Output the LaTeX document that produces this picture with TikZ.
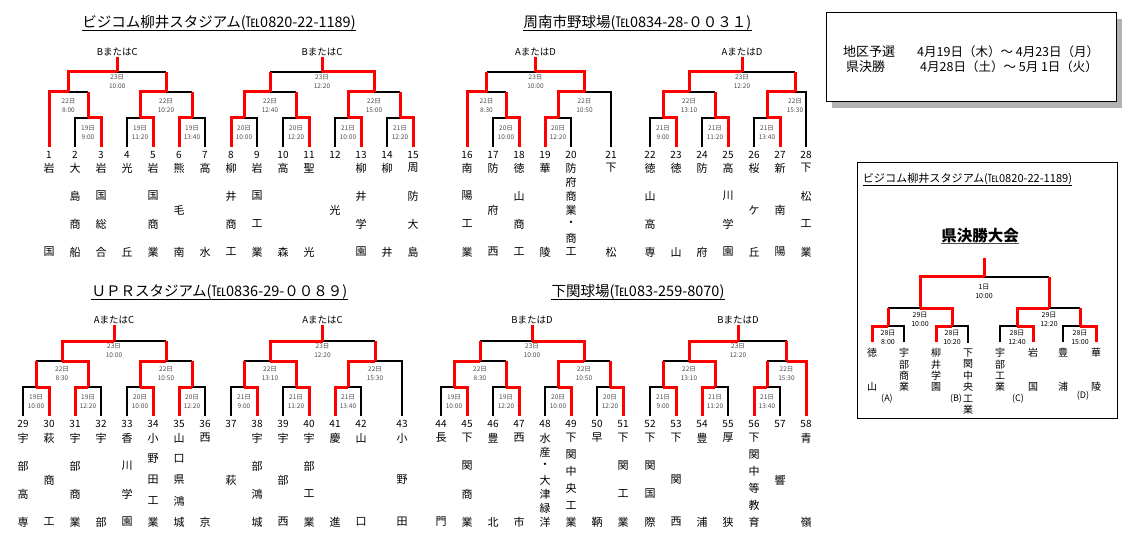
\documentclass[tikz,border=0pt]{standalone}
\usepackage{fontspec}
\setmainfont{Noto Sans CJK JP}

\tikzset{
  win/.style={draw=red, line width=3pt},
  lose/.style={draw=black, line width=1.8pt},
  tnum/.style={font=\fontsize{10}{10}\selectfont, inner xsep=0pt, inner ysep=4.3pt},
  tname/.style={font=\fontsize{11}{11}\selectfont, inner sep=0pt},
  lbl/.style={font=\fontsize{6.5}{9}\selectfont, text=black!70, align=center, inner sep=0pt},
  flbl/.style={font=\fontsize{7}{9}\selectfont, align=center, inner sep=0pt},
  grp/.style={font=\fontsize{9.5}{9.5}\selectfont, inner sep=1pt},
  heading/.style={font=\fontsize{14.5}{14.5}\selectfont, inner sep=0pt},
  pool/.style={font=\fontsize{9}{9}\selectfont, inner sep=0pt},
}

% vertical school name: x, top y, bottom y, chars, node name
\newcommand\vname[5]{%
  \edef\chlist{#4}%
  \foreach \ch [count=\cnt] in \chlist {\xdef\nch{\cnt}}%
  \foreach \ch [count=\ii from 0] in \chlist {%
    \ifnum\nch=1 \pgfmathsetmacro\yy{(#2+#3)/2}%
    \else \pgfmathsetmacro\yy{#2+\ii*(#3-#2)/(\nch-1)}\fi
    \node[tname] (#5-\ii) at (#1,\yy) {\ch};
  }}

\def\lostbouts{a1/a4, a3/a5, a5/a6, b2/b5, b4/b6, b5/b7, c1/c3, c3/c5, d2/d4, d5/d6,
  e1/e5, e4/e6, e6/e7, f1/f4, f5/f6, g2/g5, g4/g6, g5/g7, h1/h4, h3/h5, h5/h6}

\begin{document}
\begin{tikzpicture}[x=1pt,y=-1pt]
\useasboundingbox (0,0) rectangle (1133,540);

% stadium headings
\node[heading] (hd1) at (219,23) {ビジコム柳井スタジアム(℡0820-22-1189)};
\node[heading] (hd2) at (637.5,23) {周南市野球場(℡0834-28-００３１)};
\node[heading] (hd3) at (219.5,291.5) {ＵＰＲスタジアム(℡0836-29-００８９)};
\node[heading] (hd4) at (638,291.5) {下関球場(℡083-259-8070)};
\foreach \hd in {hd1,hd2,hd3,hd4}
  \draw[line width=0.8pt] (\hd.south west) -- (\hd.south east);

% teams
\foreach \tn/\xx/\nm in {1/49/{岩,国}, 2/75/{大,島,商,船}, 3/101/{岩,国,総,合}, 4/127/{光,丘},
    5/153/{岩,国,商,業}, 6/179/{熊,毛,南}, 7/205/{高,水}, 8/231/{柳,井,商,工}, 9/257/{岩,国,工,業},
    10/283/{高,森}, 11/309/{聖,光}, 12/335/{光}, 13/361/{柳,井,学,園}, 14/387/{柳,井},
    15/413/{周,防,大,島}, 16/467/{南,陽,工,業}, 17/493/{防,府,西}, 18/519/{徳,山,商,工},
    19/545/{華,陵}, 20/571/{防,府,商,業,・,商,工}, 21/611/{下,松}, 22/650/{徳,山,高,専},
    23/676/{徳,山}, 24/702/{防,府}, 25/728/{高,川,学,園}, 26/754/{桜,ケ,丘}, 27/780/{新,南,陽},
    28/806/{下,松,工,業}} {
  \node[tnum] (t\tn) at (\xx,155) {\tn};
  \vname{\xx}{168}{252}{\nm}{n\tn}
}
\foreach \tn/\xx/\nm in {29/23/{宇,部,高,専}, 30/49/{萩,商,工}, 31/75/{宇,部,商,業}, 32/101/{宇,部},
    33/127/{香,川,学,園}, 34/153/{小,野,田,工,業}, 35/179/{山,口,県,鴻,城}, 36/205/{西,京},
    37/231/{萩}, 38/257/{宇,部,鴻,城}, 39/283/{宇,部,西}, 40/309/{宇,部,工,業}, 41/335/{慶,進},
    42/361/{山,口}, 43/402/{小,野,田}, 44/441/{長,門}, 45/467/{下,関,商,業}, 46/493/{豊,北},
    47/519/{西,市}, 48/545/{水,産,・,大,津,緑,洋}, 49/571/{下,関,中,央,工,業}, 50/597/{早,鞆},
    51/623/{下,関,工,業}, 52/650/{下,関,国,際}, 53/676/{下,関,西}, 54/702/{豊,浦}, 55/728/{厚,狭},
    56/754/{下,関,中,等,教,育}, 57/780/{響}, 58/806/{青,嶺}} {
  \node[tnum] (t\tn) at (\xx,424) {\tn};
  \vname{\xx}{438}{522}{\nm}{n\tn}
}

% bouts: name/x/row/day/time
\foreach \m/\xx/\rd/\dt/\tm in {a1/88/1/19日/9:00, a2/140/1/19日/11:20, a3/192/1/19日/13:40,
    a4/68.5/2/22日/8:00, a5/166/2/22日/10:20, a6/117.25/3/23日/10:00,
    b1/244/1/20日/10:00, b2/296/1/20日/12:20, b3/348/1/21日/10:00, b4/400/1/21日/12:20,
    b5/270/2/22日/12:40, b6/374/2/22日/15:00, b7/322/3/23日/12:20,
    c1/506/1/20日/10:00, c2/558/1/20日/12:20, c3/486.5/2/22日/8:30, c4/584.5/2/22日/10:50,
    c5/535.5/3/23日/10:00,
    d1/663/1/21日/9:00, d2/715/1/21日/11:20, d3/767/1/21日/13:40, d4/689/2/22日/13:10,
    d5/795/2/22日/15:30, d6/742/3/23日/12:20,
    e1/36/4/19日/10:00, e2/88/4/19日/12:20, e3/140/4/20日/10:00, e4/192/4/20日/12:20,
    e5/62/5/22日/8:30, e6/166/5/22日/10:50, e7/114/6/23日/10:00,
    f1/244/4/21日/9:00, f2/296/4/21日/11:20, f3/348/4/21日/13:40, f4/270/5/22日/13:10,
    f5/375/5/22日/15:30, f6/322.5/6/23日/12:20,
    g1/454/4/19日/10:00, g2/506/4/19日/12:20, g3/558/4/20日/10:00, g4/610/4/20日/12:20,
    g5/480/5/22日/8:30, g6/584/5/22日/10:50, g7/532/6/23日/10:00,
    h1/663/4/21日/9:00, h2/715/4/21日/11:20, h3/767/4/21日/13:40, h4/689/5/22日/13:10,
    h5/786.5/5/22日/15:30, h6/738/6/23日/12:20} {
  \ifcase\rd\or\def\yy{118}\def\dy{14.5}\or\def\yy{92}\def\dy{13.5}\or\def\yy{72}\def\dy{9.5}%
  \or\def\yy{387}\def\dy{14.5}\or\def\yy{361}\def\dy{12.5}\or\def\yy{341}\def\dy{9.5}\fi
  \coordinate (\m) at (\xx,\yy);
  \node[lbl] at (\xx,\yy+\dy) {\dt\\\tm};
}

% group winners
\foreach \g/\m/\yy/\txt in {ga/a6/52/BまたはC, gb/b7/52/BまたはC, gc/c5/52/AまたはD, gd/d6/52/AまたはD,
    ge/e7/320/AまたはC, gf/f6/320/AまたはC, gg/g7/320/BまたはD, gh/h6/320/BまたはD} {
  \node[grp] (\g) at (\m |- 0,\yy) {\txt};
}

% losers first
\foreach \ca/\pa in {t2/a1, t4/a2, t7/a3, t9/b1, t10/b2, t12/b3, t14/b4, t17/c1, t20/c2, t21/c4,
    t22/d1, t24/d2, t26/d3, t28/d5, t29/e1, t32/e2, t33/e3, t36/e4, t37/f1, t39/f2, t42/f3,
    t43/f5, t44/g1, t46/g2, t48/g3, t50/g4, t52/h1, t55/h2, t57/h3}
  \draw[lose] (\ca.north) |- (\pa);
\foreach \ca/\pa in \lostbouts
  \draw[lose] (\ca |- \pa) -- (\pa);

% winners
\foreach \ca/\pa in {t1/a4, t3/a1, t5/a2, t6/a3, t8/b1, t11/b2, t13/b3, t15/b4, t16/c3, t18/c1,
    t19/c2, t23/d1, t25/d2, t27/d3, t30/e1, t31/e2, t34/e3, t35/e4, t38/f1, t40/f2, t41/f3,
    t45/g1, t47/g2, t49/g3, t51/g4, t53/h1, t54/h2, t56/h3, t58/h5}
  \draw[win] (\ca.north) |- (\pa);
\foreach \ca/\pa in {a2/a5, a4/a6, b1/b5, b3/b6, b6/b7, c2/c4, c4/c5, d1/d4, d3/d5, d4/d6,
    e2/e5, e3/e6, e5/e7, f2/f4, f3/f5, f4/f6, g1/g5, g3/g6, g6/g7, h2/h4, h4/h6}
  \draw[win] (\ca) |- (\pa);
\foreach \ca/\pa in \lostbouts
  \draw[win] (\ca) -- (\ca |- \pa);
\foreach \m/\g in {a6/ga, b7/gb, c5/gc, d6/gd, e7/ge, f6/gf, g7/gg, h6/gh}
  \draw[win] (\m) -- (\g.south);

% schedule box
\fill[black!30] (832,19) rectangle (1122,108);
\draw[fill=white, line width=1pt] (826,13) rectangle (1116,102);
\begin{scope}[every node/.style={font=\fontsize{13}{13}\selectfont, anchor=west, inner sep=0pt}]
  \node (p1) at (843,52) {地区予選};
  \node[font=\fontsize{12.5}{12.5}\selectfont] (p2) at (917,52) {4月19日（木）～ 4月23日（月）};
  \node (p3) at (846,67) {県決勝};
  \node[font=\fontsize{12.5}{12.5}\selectfont] (p4) at (920,67) {4月28日（土）～ 5月 1日（火）};
\end{scope}

% prefectural final
\draw[line width=1pt] (857,163) rectangle (1117,418);
\node[font=\fontsize{11.1}{11.1}\selectfont, inner sep=0pt] (ft) at (967.5,179) {ビジコム柳井スタジアム(℡0820-22-1189)};
\draw[line width=0.6pt] (ft.south west) -- (ft.south east);
\node[font=\bfseries\fontsize{15.5}{15.5}\selectfont, inner sep=0pt] (kt) at (980,236) {県決勝大会};
\draw[line width=0.8pt, black!70] (kt.south west) -- (kt.south east);

\begin{scope}[tname/.style={font=\fontsize{10}{10}\selectfont, inner sep=0pt}]
\foreach \kk/\xx/\yb/\nm in {k1/872/387/{徳,山}, k2/904/387/{宇,部,商,業}, k3/936/387/{柳,井,学,園},
    k4/968/410/{下,関,中,央,工,業}, k5/1000/387/{宇,部,工,業}, k6/1033/387/{岩,国},
    k7/1063/387/{豊,浦}, k8/1096/387/{華,陵}} {
  \vname{\xx}{353}{\yb}{\nm}{\kk}
}
\end{scope}
\node[pool] (la) at (887,399) {(A)};
\node[pool] (lb) at (956,399) {(B)};
\node[pool] (lc) at (1018,399) {(C)};
\node[pool] (ld) at (1083,396) {(D)};

\foreach \m/\xx/\yy/\dy/\dt/\tm in {q1/888/326/11.5/28日/8:00, q2/952/326/11.5/28日/10:20,
    q3/1017/326/11.5/28日/12:40, q4/1080/326/11.5/28日/15:00,
    s1/920/308/11/29日/10:00, s2/1049/308/11/29日/12:20, fin/984/277/14.5/1日/10:00} {
  \coordinate (\m) at (\xx,\yy);
  \node[flbl] at (\xx,\yy+\dy) {\dt\\\tm};
}
\coordinate (ftop) at (984,258);

\foreach \ca/\pa in {k2/q1, k4/q2, k5/q3, k7/q4}
  \draw[lose] ([yshift=6pt]\ca-0.north) |- (\pa);
\foreach \ca/\pa in {q1/s1, q4/s2, s2/fin}
  \draw[lose] (\ca |- \pa) -- (\pa);
\foreach \ca/\pa in {k1/q1, k3/q2, k6/q3, k8/q4}
  \draw[win] ([yshift=6pt]\ca-0.north) |- (\pa);
\foreach \ca/\pa in {q2/s1, q3/s2, s1/fin}
  \draw[win] (\ca) |- (\pa);
\foreach \ca/\pa in {q1/s1, q4/s2, s2/fin}
  \draw[win] (\ca) -- (\ca |- \pa);
\draw[win] (fin) -- (ftop);
\end{tikzpicture}
\end{document}
